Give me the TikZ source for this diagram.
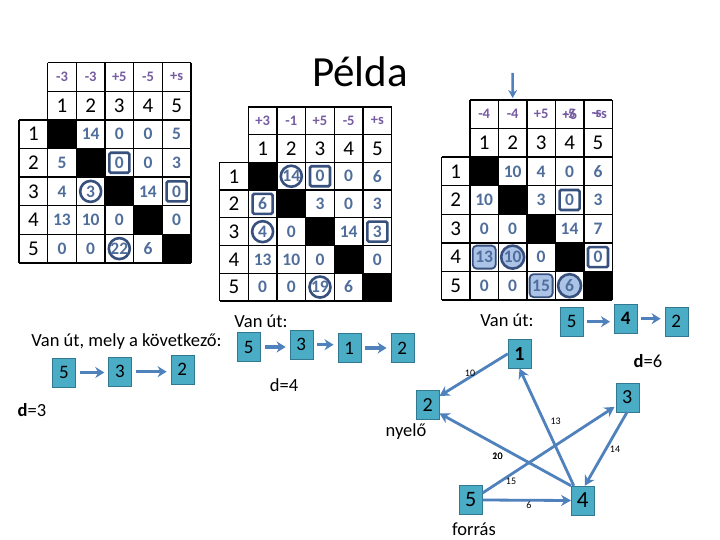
\documentclass[tikz,border=0pt]{standalone}
\usepackage{fontspec}
\setmainfont{Carlito}
\usetikzlibrary{arrows.meta,calc}
\definecolor{numc}{RGB}{80,110,155}
\definecolor{hdc}{RGB}{118,92,160}
\definecolor{hlc}{RGB}{55,80,125}
\definecolor{hlfill}{RGB}{170,195,230}
\definecolor{boxfill}{RGB}{75,172,198}
\definecolor{boxdraw}{RGB}{50,120,145}
\definecolor{arrc}{RGB}{79,129,189}
\newcommand\fsz[1]{\fontsize{#1}{#1}\selectfont}
\tikzset{
 gl/.style={line width=1.4pt},
 hd/.style={font=\fsz{14.5}\bfseries, text=hdc, inner sep=0},
 idx/.style={font=\fsz{21}, inner sep=0},
 num/.style={font=\fsz{17.5}\bfseries, text=numc, inner sep=0},
 hsq/.style={draw=hlc, line width=2.6pt, rounded corners=1.5pt, minimum width=20pt, minimum height=20pt, inner sep=0},
 hci/.style={circle, draw=hlc, line width=2.6pt, minimum size=21pt, inner sep=0},
 hsqf/.style={hsq, fill=hlfill, line width=1.8pt, rounded corners=4pt, minimum width=23pt, minimum height=23pt},
 hcif/.style={hci, fill=hlfill, minimum size=23pt},
 bx/.style={draw=boxdraw, fill=boxfill, minimum width=23pt, minimum height=29pt, inner sep=0, font=\fsz{19}},
 parr/.style={draw=arrc, line width=3.5pt, -{Stealth[length=9pt,width=11pt]}, shorten <=4pt, shorten >=4pt},
 garr/.style={draw=arrc, line width=2.8pt, -{Stealth[length=10pt,width=11pt]}},
 elab/.style={font=\fsz{10}, inner sep=0},
 lbl/.style={font=\fsz{18.5}, inner sep=0},
}
% grid of a matrix, in cell units; #1 = name prefix
\newcommand\matgrid[1]{%
  \foreach \ii in {1,...,5} \fill (\ii,\ii+1) rectangle (\ii+1,\ii+2);
  \foreach \cc in {1,...,6} \draw[gl] (\cc,0) -- (\cc,7);
  \draw[gl] (0,2) -- (0,7);
  \foreach \rr in {0,1} \draw[gl] (1,\rr) -- (6,\rr);
  \foreach \rr in {2,...,7} \draw[gl] (0,\rr) -- (6,\rr);
  \foreach \cc in {1,...,5} {\node[idx] (#1c\cc) at (\cc+0.5,1.5) {\cc}; \node[idx] (#1r\cc) at (0.5,\cc+1.5) {\cc};}
}
\newcommand\matrow[3]{%
  \foreach \vv [count=\cc] in {#3} {\node[num] (#1-#2-\cc) at (\cc+0.5,#2+1.5) {\vv};}
}
\newcommand\mathead[2]{%
  \foreach \vv [count=\cc] in {#2} {\node[hd] (#1h\cc) at (\cc+0.5,0.5) {\vv};}
}
\begin{document}
\begin{tikzpicture}[x=1pt,y=-1pt]
\useasboundingbox (0,0) rectangle (720,540);
\fill[white] (0,0) rectangle (720,540);

\node[font=\fsz{43}, inner sep=0] (title) at (360,72) {Példa};

% ---------- matrix 1 ----------
\begin{scope}[shift={(19,62.7)}, xscale=28.66, yscale=28.6]
  \matgrid{a}
  \mathead{a}{-3,-3,+5,-5,+s}
  \node[hsq] (a-q1) at (3.5,3.5) {};
  \node[hsq] (a-q2) at (5.5,4.5) {};
  \node[hci] (a-o1) at (2.5,4.5) {};
  \node[hci] (a-o2) at (3.5,6.5) {};
  \matrow{a}{1}{{},14,0,0,5}
  \matrow{a}{2}{5,{},0,0,3}
  \matrow{a}{3}{4,3,{},14,0}
  \matrow{a}{4}{13,10,0,{},0}
  \matrow{a}{5}{0,0,22,6,{}}
\end{scope}

% ---------- matrix 2 ----------
\begin{scope}[shift={(219.6,107)}, xscale=28.68, yscale=27.7]
  \matgrid{b}
  \mathead{b}{+3,-1,+5,-5,+s}
  \node[hci] (b-o1) at (2.5,2.5) {};
  \node[hsq] (b-q1) at (3.5,2.5) {};
  \node[hsq] (b-q2) at (1.5,3.5) {};
  \node[hci] (b-o2) at (1.5,4.5) {};
  \node[hsq] (b-q3) at (5.5,4.5) {};
  \node[hci] (b-o3) at (3.5,6.5) {};
  \matrow{b}{1}{{},14,0,0,6}
  \matrow{b}{2}{6,{},3,0,3}
  \matrow{b}{3}{4,0,{},14,3}
  \matrow{b}{4}{13,10,0,{},0}
  \matrow{b}{5}{0,0,19,6,{}}
\end{scope}

% ---------- matrix 3 ----------
\begin{scope}[shift={(441.5,100)}, xscale=28.46, yscale=28.57]
  \matgrid{c}
  \mathead{c}{-4,-4,+5}
  \node[hd] (ch4a) at (4.5,0.5) {+6};
  \node[hd] (ch4b) at (4.5,0.5) {-5};
  \node[hd] (ch5a) at (5.45,0.5) {-s};
  \node[hd] (ch5b) at (5.58,0.5) {+s};
  \node[hsq] (c-q1) at (4.5,3.5) {};
  \node[hsq] (c-q2) at (5.5,5.5) {};
  \node[hsqf] (c-f1) at (1.5,5.5) {};
  \node[hcif] (c-f2) at (2.5,5.5) {};
  \node[hsqf] (c-f3) at (3.5,6.5) {};
  \node[hcif] (c-f4) at (4.5,6.5) {};
  \matrow{c}{1}{{},10,4,0,6}
  \matrow{c}{2}{10,{},3,0,3}
  \matrow{c}{3}{0,0,{},14,7}
  \matrow{c}{4}{13,10,0,{},0}
  \matrow{c}{5}{0,0,15,6,{}}
\end{scope}
\coordinate (downtop) at (512.7,73);
\draw[draw=arrc, line width=2.5pt, -{Stealth[length=8pt,width=9pt]}] (downtop) -- (ch2.north |- 0,98);

% ---------- path 1 ----------
\node[lbl] (t1) at (126.5,342) {Van út, mely a következő:};
\node[bx] (p5) at (63.9,372.5) {5};
\node[bx] (p3) at (120,371.7) {3};
\node[bx] (p2) at (182.3,369.2) {2};
\draw[parr] (p5.east) -- (p5.east -| p3.west);
\draw[parr] (p3.east) -- (p3.east -| p2.west);
\node[lbl] (d3) at (32,410) {\textbf{d}=3};

% ---------- path 2 ----------
\node[lbl] (t2) at (261,321) {Van út:};
\node[bx] (q5) at (248.8,347) {5};
\node[bx] (q3) at (301.3,344.7) {3};
\node[bx] (q1) at (349.2,348) {1};
\node[bx] (q2) at (402.3,348) {2};
\draw[parr] (q5.east) -- (q5.east -| q3.west);
\draw[parr] (q3.east) -- (q3.east -| q1.west);
\draw[parr] (q1.east) -- (q1.east -| q2.west);
\node[lbl] (d4) at (284,385) {d=4};

% ---------- path 3 ----------
\node[lbl] (t3) at (507,320) {Van út:};
\node[bx] (r5) at (571.7,321.7) {5};
\node[bx] (r4) at (625.7,318.7) {\textbf{4}};
\node[bx] (r2) at (676.3,321.7) {2};
\draw[parr] (r5.east) -- (r5.east -| r4.west);
\draw[parr] (r4.east) -- (r4.east -| r2.west);
\node[lbl] (d6) at (648,361) {\textbf{d}=6};

% ---------- graph ----------
\node[bx, font=\fsz{20}\bfseries] (g1) at (519.5,353.8) {1};
\node[bx, font=\fsz{20}] (g2) at (427.8,404.7) {2};
\node[bx, font=\fsz{20}] (g3) at (627.2,397.2) {3};
\node[bx, font=\fsz{22}] (g5) at (470.8,500) {5};
\node[bx, font=\fsz{23}] (g4) at (582.8,500.5) {4};
\node[lbl] (nyelo) at (406,432) {nyelő};
\node[lbl] (forras) at (474,529.5) {forrás};

\draw[garr] (g1.west) -- ($(g2.east)+(0,-8.7)$);
\draw[garr] ($(g4.north)+(-9,0)$) -- (g1.south);
\draw[garr] ($(g5.east)+(0,-7)$) -- ($(g3.south west)+(-1,-5)$);
\draw[garr] (g3.south) -- ($(g4.north)+(2,0)$);
\draw[garr] (g4.north west) -- ($(g2.south east)+(0,-6)$);
\draw[garr] (g5.east) -- (g4.west);

\node[elab] (l10) at (470,373) {10};
\node[elab] (l13) at (555.7,421.7) {13};
\node[elab] (l15) at (511,481) {15};
\node[elab] (l14) at (615,449.3) {14};
\node[elab] (l20) at (497.5,456) {20};
\node[elab] (l10b) at (497.5,456) {10};
\node[elab] (l6) at (529,505) {6};
\end{tikzpicture}
\end{document}
